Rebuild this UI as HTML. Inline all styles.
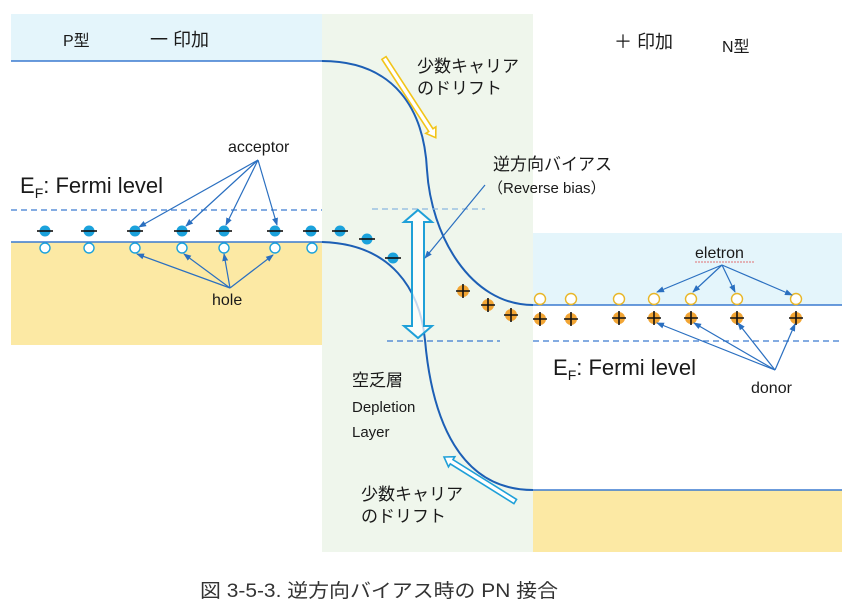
<!DOCTYPE html>
<html><head><meta charset="utf-8"><style>
body{margin:0;background:#fff}
svg{display:block}
text{font-family:"Liberation Sans","Noto Sans CJK JP",sans-serif;fill:#1a1a1a}
</style></head><body>
<svg width="854" height="610" viewBox="0 0 854 610" xmlns="http://www.w3.org/2000/svg">
<defs>
<marker id="ah" markerWidth="8" markerHeight="8" refX="7" refY="4" orient="auto" markerUnits="userSpaceOnUse"><path d="M0,1 L8,4 L0,7 Z" fill="#2a6fc0"/></marker>
</defs>
<rect x="11" y="14" width="311" height="47" fill="#e4f5fb"/>
<rect x="322" y="14" width="211" height="538" fill="#eff6ec"/>
<rect x="11" y="242" width="311" height="103" fill="#fce9a4"/>
<rect x="533" y="233" width="309" height="72" fill="#e4f5fb"/>
<rect x="533" y="490" width="309" height="62" fill="#fce9a4"/>
<line x1="11" y1="61" x2="322" y2="61" stroke="#3a7ad0" stroke-width="1.5"/>
<line x1="11" y1="242" x2="322" y2="242" stroke="#3a7ad0" stroke-width="1.5"/>
<line x1="533" y1="305" x2="842" y2="305" stroke="#3a7ad0" stroke-width="1.5"/>
<line x1="533" y1="490" x2="842" y2="490" stroke="#3a7ad0" stroke-width="1.5"/>
<path d="M322,61 C395,61 424,110 427,170 C431,235 470,305 533,305" fill="none" stroke="#1d5fb5" stroke-width="2"/>
<path d="M322,242 C392,244 420,290 425,340 C432,420 460,490 533,490" fill="none" stroke="#1d5fb5" stroke-width="2"/>
<line x1="11" y1="210" x2="322" y2="210" stroke="#3a7ad0" stroke-width="1.3" stroke-dasharray="6,4"/>
<line x1="372" y1="209" x2="485" y2="209" stroke="#8ab6de" stroke-width="1.3" stroke-dasharray="6,4"/>
<line x1="387" y1="341" x2="500" y2="341" stroke="#3a7ad0" stroke-width="1.3" stroke-dasharray="6,4"/>
<line x1="533" y1="341" x2="842" y2="341" stroke="#3a7ad0" stroke-width="1.3" stroke-dasharray="6,4"/>
<path d="M418,210 L432,222 L424,222 L424,326 L432,326 L418,338 L404,326 L412,326 L412,222 L404,222 Z" fill="rgba(255,255,255,0.75)" stroke="#1fa0d8" stroke-width="2"/>
<g transform="translate(384,58) rotate(57)"><path d="M0,-2.5 L86,-2.5 L86,-6 L95,0 L86,6 L86,2.5 L0,2.5 Z" fill="#fff" stroke="#f2c419" stroke-width="1.6"/></g>
<g transform="translate(444,457) rotate(32)"><path d="M0,0 L9,-6 L9,-2.5 L84,-2.5 L84,2.5 L9,2.5 L9,6 Z" fill="#fff" stroke="#1fa0d8" stroke-width="1.6"/></g>
<g fill="#1ba2dc" stroke="#111" stroke-width="1.6">
<circle cx="45" cy="231" r="5.5" stroke="none"/><line x1="37" y1="231" x2="53" y2="231"/>
<circle cx="89" cy="231" r="5.5" stroke="none"/><line x1="81" y1="231" x2="97" y2="231"/>
<circle cx="135" cy="231" r="5.5" stroke="none"/><line x1="127" y1="231" x2="143" y2="231"/>
<circle cx="182" cy="231" r="5.5" stroke="none"/><line x1="174" y1="231" x2="190" y2="231"/>
<circle cx="224" cy="231" r="5.5" stroke="none"/><line x1="216" y1="231" x2="232" y2="231"/>
<circle cx="275" cy="231" r="5.5" stroke="none"/><line x1="267" y1="231" x2="283" y2="231"/>
<circle cx="311" cy="231" r="5.5" stroke="none"/><line x1="303" y1="231" x2="319" y2="231"/>
<circle cx="340" cy="231" r="5.5" stroke="none"/><line x1="332" y1="231" x2="348" y2="231"/>
<circle cx="367" cy="239" r="5.5" stroke="none"/><line x1="359" y1="239" x2="375" y2="239"/>
<circle cx="393" cy="258" r="5.5" stroke="none"/><line x1="385" y1="258" x2="401" y2="258"/>
</g>
<g fill="#fff" stroke="#1ba2dc" stroke-width="1.4">
<circle cx="45" cy="248" r="5"/><circle cx="89" cy="248" r="5"/><circle cx="135" cy="248" r="5"/><circle cx="182" cy="248" r="5"/><circle cx="224" cy="248" r="5"/><circle cx="275" cy="248" r="5"/><circle cx="312" cy="248" r="5"/>
</g>
<g fill="#fff" stroke="#e8b628" stroke-width="1.4">
<circle cx="540" cy="299" r="5.5"/><circle cx="571" cy="299" r="5.5"/><circle cx="619" cy="299" r="5.5"/><circle cx="654" cy="299" r="5.5"/><circle cx="691" cy="299" r="5.5"/><circle cx="737" cy="299" r="5.5"/><circle cx="796" cy="299" r="5.5"/>
</g>
<g stroke="#111" stroke-width="1.6">
<g transform="translate(463,291)"><circle r="6" fill="#f2a534" stroke="none"/><path d="M-7,0H7M0,-7V7"/></g>
<g transform="translate(488,305)"><circle r="6" fill="#f2a534" stroke="none"/><path d="M-7,0H7M0,-7V7"/></g>
<g transform="translate(511,315)"><circle r="6" fill="#f2a534" stroke="none"/><path d="M-7,0H7M0,-7V7"/></g>
<g transform="translate(540,319)"><circle r="6" fill="#f2a534" stroke="none"/><path d="M-7,0H7M0,-7V7"/></g>
<g transform="translate(571,319)"><circle r="6" fill="#f2a534" stroke="none"/><path d="M-7,0H7M0,-7V7"/></g>
<g transform="translate(619,318)"><circle r="6" fill="#f2a534" stroke="none"/><path d="M-7,0H7M0,-7V7"/></g>
<g transform="translate(654,318)"><circle r="6" fill="#f2a534" stroke="none"/><path d="M-7,0H7M0,-7V7"/></g>
<g transform="translate(691,318)"><circle r="6" fill="#f2a534" stroke="none"/><path d="M-7,0H7M0,-7V7"/></g>
<g transform="translate(737,318)"><circle r="6" fill="#f2a534" stroke="none"/><path d="M-7,0H7M0,-7V7"/></g>
<g transform="translate(796,318)"><circle r="6" fill="#f2a534" stroke="none"/><path d="M-7,0H7M0,-7V7"/></g>
</g>
<g stroke="#2a6fc0" stroke-width="1.2" marker-end="url(#ah)">
<line x1="258" y1="160" x2="139" y2="227"/><line x1="258" y1="160" x2="186" y2="226"/><line x1="258" y1="160" x2="226" y2="225"/><line x1="258" y1="160" x2="277" y2="225"/>
<line x1="230" y1="288" x2="137" y2="254"/><line x1="230" y1="288" x2="184" y2="254"/><line x1="230" y1="288" x2="224" y2="254"/><line x1="230" y1="288" x2="273" y2="255"/>
<line x1="722" y1="265" x2="657" y2="292"/><line x1="722" y1="265" x2="693" y2="292"/><line x1="722" y1="265" x2="735" y2="292"/><line x1="722" y1="265" x2="792" y2="295"/>
<line x1="775" y1="370" x2="657" y2="323"/><line x1="775" y1="370" x2="694" y2="323"/><line x1="775" y1="370" x2="738" y2="323"/><line x1="775" y1="370" x2="795" y2="324"/>
<line x1="485" y1="185" x2="425" y2="258"/>
</g>
<text x="63" y="46" font-size="16">P型</text>
<text x="150" y="46" font-size="18">一 印加</text>
<text x="614" y="48" font-size="18">＋ 印加</text>
<text x="722" y="52" font-size="16">N型</text>
<text x="417" y="72" font-size="17">少数キャリア</text>
<text x="417" y="94" font-size="17">のドリフト</text>
<text x="493" y="170" font-size="17">逆方向バイアス</text>
<text x="488" y="193" font-size="15">（Reverse bias）</text>
<text x="228" y="152" font-size="16">acceptor</text>
<text x="20" y="193" font-size="22">E<tspan font-size="14" dy="5">F</tspan><tspan dy="-5">: Fermi level</tspan></text>
<text x="212" y="305" font-size="16">hole</text>
<text x="695" y="258" font-size="16">eletron</text>
<line x1="695" y1="262" x2="754" y2="262" stroke="#e07070" stroke-width="1" stroke-dasharray="2,1"/>
<text x="553" y="375" font-size="22">E<tspan font-size="14" dy="5">F</tspan><tspan dy="-5">: Fermi level</tspan></text>
<text x="751" y="393" font-size="16">donor</text>
<text x="352" y="386" font-size="17">空乏層</text>
<text x="352" y="412" font-size="15">Depletion</text>
<text x="352" y="437" font-size="15">Layer</text>
<text x="361" y="500" font-size="17">少数キャリア</text>
<text x="361" y="522" font-size="17">のドリフト</text>
<text x="200" y="597" font-size="19" textLength="358" lengthAdjust="spacingAndGlyphs" style="fill:#333">図 3-5-3. 逆方向バイアス時の PN 接合</text>
</svg>
</body></html>
